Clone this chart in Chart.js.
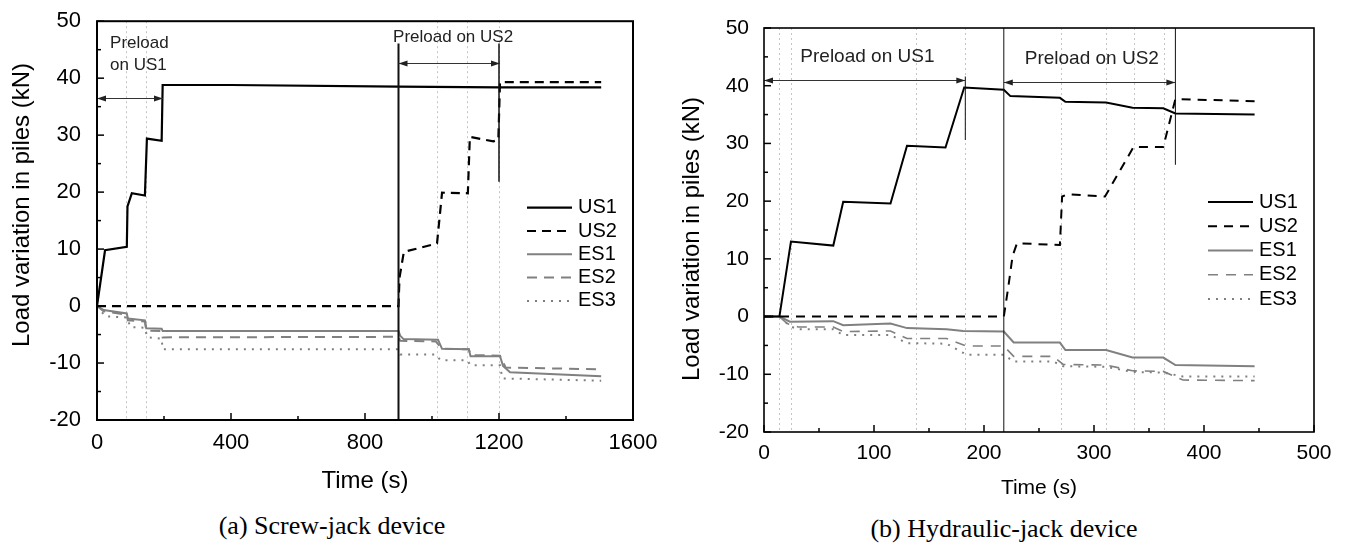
<!DOCTYPE html>
<html>
<head>
<meta charset="utf-8">
<script src="https://cdn.jsdelivr.net/npm/chart.js@4.4.1/dist/chart.umd.min.js"></script>
<style>
  body { margin: 0; background: #fff; width: 1347px; height: 549px; overflow: hidden; position: relative; }
  .panel { position: absolute; top: 0; }
  .caption {
    position: absolute;
    font-family: 'Liberation Serif', 'Times New Roman', serif;
    font-size: 26px;
    line-height: 26px;
    white-space: nowrap;
    transform: translateX(-50%);
  }
</style>
</head>
<body>
<div class="panel" style="left:0"><canvas id="chart-a" width="673" height="510"></canvas></div>
<div class="panel" style="left:673px"><canvas id="chart-b" width="674" height="510"></canvas></div>
<div class="caption" style="left:332px; top:513px">(a) Screw-jack device</div>
<div class="caption" style="left:1004px; top:516px">(b) Hydraulic-jack device</div>

<script>
const SANS = "'Liberation Sans', Arial, sans-serif";
const GREY = '#808080';

// (a) screw-jack device, time in s, load in kN
const screwUS1Time = [0, 24, 89, 91, 104, 143, 149, 193, 196, 400, 900, 1200, 1505];
const screwUS1Load = [0, 9.8, 10.4, 17.5, 19.8, 19.4, 29.4, 29.0, 38.8, 38.8, 38.5, 38.4, 38.4];
const screwUS2Time = [0, 900, 903, 916, 1015, 1030, 1107, 1113, 1183, 1198, 1203, 1505];
const screwUS2Load = [0, 0, 5, 9.5, 11, 19.9, 19.8, 29.7, 28.9, 29.2, 39.3, 39.3];
const screwES1Time = [0, 20, 89, 92, 143, 147, 193, 196, 900, 905, 915, 1018, 1030, 1110, 1115, 1203, 1212, 1233, 1505];
const screwES1Load = [0, -0.7, -1.3, -2.2, -2.5, -3.9, -4.0, -4.4, -4.4, -5.2, -5.8, -5.9, -7.5, -7.6, -8.8, -8.8, -10.5, -11.6, -12.3];
const screwES2Time = [0, 20, 89, 92, 143, 147, 193, 196, 900, 905, 1011, 1030, 1110, 1115, 1203, 1220, 1505];
const screwES2Load = [0, -0.9, -1.5, -2.5, -2.7, -4.3, -4.4, -5.5, -5.4, -6.1, -6.2, -7.5, -7.6, -8.6, -8.7, -10.8, -11.1];
const screwES3Time = [0, 25, 89, 100, 143, 150, 193, 196, 900, 905, 1011, 1025, 1105, 1115, 1203, 1210, 1505];
const screwES3Load = [0, -1.8, -2.0, -3.7, -3.8, -5.5, -5.7, -7.6, -7.6, -8.5, -8.5, -9.5, -9.5, -10.4, -10.4, -12.7, -13.1];

const screwMarks = [88, 147, 1015, 1105, 1200];
const screwPhaseTime = [900, 1200];
const screwPhaseTop = [46.1, 46.1];
const screwPhaseBottom = [-20, 21.8];
const screwArrowFrom = [0, 900];
const screwArrowTo = [197, 1203];
const screwArrowLevel = [36.5, 42.6];
const screwNotes = [
  { text: 'Preload', t: 39, v: 46.1, align: 'left' },
  { text: 'on US1', t: 39, v: 42.3, align: 'left' },
  { text: 'Preload on US2', t: 1063, v: 47.1, align: 'center' },
];

// (b) hydraulic-jack device
const hydroUS1Time = [0, 14, 24.5, 63, 72, 115, 130, 165, 182, 218, 224, 269, 274, 311, 335, 363, 374, 446];
const hydroUS1Load = [0, 0, 13.0, 12.3, 19.9, 19.6, 29.6, 29.3, 39.7, 39.3, 38.2, 37.9, 37.2, 37.1, 36.2, 36.1, 35.2, 35.0];
const hydroUS2Time = [0, 218, 222, 226, 230, 269, 271, 276, 310, 336, 363, 374, 446];
const hydroUS2Load = [0, 0, 5, 10.5, 12.7, 12.4, 20.8, 21.2, 20.8, 29.4, 29.4, 37.7, 37.3];
const hydroES1Time = [0, 14, 23.6, 63, 72, 115, 130, 166, 181, 218, 227, 269, 274, 311, 335, 363, 374, 446];
const hydroES1Load = [0, 0, -0.9, -0.8, -1.5, -1.2, -2.0, -2.2, -2.5, -2.6, -4.5, -4.5, -5.8, -5.8, -7.1, -7.1, -8.4, -8.6];
const hydroES2Time = [0, 14, 21, 31, 63, 72, 115, 130, 166, 184, 218, 227, 263, 272, 311, 335, 363, 381, 446];
const hydroES2Load = [0, 0, -1.2, -1.8, -1.8, -2.6, -2.5, -3.8, -3.8, -5.1, -5.1, -6.9, -6.9, -8.3, -8.4, -9.4, -9.5, -11.0, -11.1];
const hydroES3Time = [0, 14, 24, 31, 63, 72, 115, 130, 166, 184, 218, 227, 263, 272, 311, 335, 363, 381, 446];
const hydroES3Load = [0, 0, -1.7, -2.2, -2.2, -3.2, -3.2, -4.6, -4.7, -6.6, -6.6, -7.8, -7.8, -8.6, -8.7, -9.6, -9.7, -10.4, -10.4];

const hydroMarks = [14, 24.5, 138, 183, 270, 311, 336, 364];
const hydroPhaseTime = [218, 183, 374];
const hydroPhaseTop = [50, 41.6, 50];
const hydroPhaseBottom = [-20, 30.6, 26.3];
const hydroArrowFrom = [0, 218];
const hydroArrowTo = [183, 374];
const hydroArrowLevel = [41.0, 40.7];
const hydroNotes = [
  { text: 'Preload on US1', t: 94, v: 45.0, align: 'center' },
  { text: 'Preload on US2', t: 298, v: 44.6, align: 'center' },
];

function xy(ts, vs) {
  return ts.map((t, i) => ({ x: t, y: vs[i] }));
}

function series(label, ts, vs, color, width, dash) {
  return {
    label,
    data: xy(ts, vs),
    borderColor: color,
    borderWidth: width,
    borderDash: dash,
    pointRadius: 0,
    tension: 0,
    fill: false,
  };
}

function seg(ctx, x1, y1, x2, y2) {
  ctx.beginPath();
  ctx.moveTo(x1, y1);
  ctx.lineTo(x2, y2);
  ctx.stroke();
}

function arrowHead(ctx, x, y, dir) {
  ctx.beginPath();
  ctx.moveTo(x, y);
  ctx.lineTo(x - dir * 9, y - 3);
  ctx.lineTo(x - dir * 9, y + 3);
  ctx.closePath();
  ctx.fill();
}

const framePlugin = {
  id: 'frame',
  beforeDatasetsDraw(chart, args, o) {
    const { ctx, chartArea: a, scales: { x } } = chart;
    ctx.save();
    ctx.strokeStyle = '#c4c4c4';
    ctx.lineWidth = 1;
    ctx.setLineDash([2, 3]);
    o.marks.forEach((t) => {
      const px = Math.round(x.getPixelForValue(t)) + 0.5;
      seg(ctx, px, a.top, px, a.bottom);
    });
    ctx.restore();
  },
  afterDatasetsDraw(chart, args, o) {
    const { ctx, chartArea: a, scales: { x, y } } = chart;
    ctx.save();

    // phase boundaries
    ctx.strokeStyle = '#111';
    o.phaseTime.forEach((t, i) => {
      ctx.lineWidth = o.phaseWidth[i];
      const px = x.getPixelForValue(t);
      seg(ctx, px, y.getPixelForValue(o.phaseTop[i]), px, y.getPixelForValue(o.phaseBottom[i]));
    });

    // double arrows
    ctx.strokeStyle = '#333';
    ctx.fillStyle = '#222';
    ctx.lineWidth = 1;
    o.arrowFrom.forEach((t, i) => {
      const x1 = x.getPixelForValue(t);
      const x2 = x.getPixelForValue(o.arrowTo[i]);
      const py = Math.round(y.getPixelForValue(o.arrowLevel[i])) + 0.5;
      seg(ctx, x1, py, x2, py);
      arrowHead(ctx, x1, py, -1);
      arrowHead(ctx, x2, py, 1);
    });

    ctx.font = o.noteFont;
    ctx.fillStyle = '#222';
    ctx.textBaseline = 'middle';
    o.notes.forEach((n) => {
      ctx.textAlign = n.align;
      ctx.fillText(n.text, x.getPixelForValue(n.t), y.getPixelForValue(n.v));
    });

    // box
    ctx.strokeStyle = '#000';
    ctx.lineWidth = o.boxWidth;
    ctx.strokeRect(a.left, a.top, a.right - a.left, a.bottom - a.top);

    // inward ticks
    ctx.lineWidth = 1.5;
    x.ticks.forEach((tk) => {
      const len = tk.label === '' ? 4 : 7;
      const px = x.getPixelForValue(tk.value);
      seg(ctx, px, a.bottom, px, a.bottom - len);
    });
    y.ticks.forEach((tk) => {
      const len = tk.label === '' ? 4 : 7;
      const py = y.getPixelForValue(tk.value);
      seg(ctx, a.left, py, a.left + len, py);
    });

    // legend
    ctx.font = '20px ' + SANS;
    ctx.textAlign = 'left';
    ctx.textBaseline = 'middle';
    chart.data.datasets.forEach((ds, i) => {
      const ly = a.top + o.legendTop + i * o.legendGap;
      ctx.strokeStyle = ds.borderColor;
      ctx.lineWidth = ds.borderWidth;
      ctx.setLineDash(ds.borderDash || []);
      seg(ctx, a.right - 106, ly, a.right - 61, ly);
      ctx.setLineDash([]);
      ctx.fillStyle = '#000';
      ctx.fillText(ds.label, a.right - 55, ly);
    });

    // axis titles
    ctx.fillStyle = '#000';
    ctx.font = o.xTitleFont;
    ctx.textAlign = 'center';
    ctx.textBaseline = 'alphabetic';
    ctx.fillText('Time (s)', (a.left + a.right) / 2, o.xTitleBase);
    ctx.font = o.yTitleFont;
    ctx.textBaseline = 'middle';
    ctx.translate(o.yTitleX, o.yTitleY);
    ctx.rotate(-Math.PI / 2);
    ctx.fillText('Load variation in piles (kN)', 0, 0);
    ctx.restore();
  },
};

function axes(xMax, xStep, xMajor, tickSize, yPad, xPad, yWidth, xHeight) {
  return {
    x: {
      type: 'linear',
      min: 0,
      max: xMax,
      grid: { display: false },
      border: { display: false },
      afterFit: (s) => { s.height = xHeight; },
      ticks: {
        stepSize: xStep,
        autoSkip: false,
        maxRotation: 0,
        padding: xPad,
        color: '#000',
        font: { family: SANS, size: tickSize },
        callback: (v) => (v % xMajor === 0 ? v : ''),
      },
    },
    y: {
      min: -20,
      max: 50,
      grid: { display: false },
      border: { display: false },
      afterFit: (s) => { s.width = yWidth; },
      ticks: {
        stepSize: 5,
        autoSkip: false,
        padding: yPad,
        color: '#000',
        font: { family: SANS, size: tickSize },
        callback: (v) => (v % 10 === 0 ? v : ''),
      },
    },
  };
}

new Chart(document.getElementById('chart-a'), {
  type: 'line',
  data: {
    datasets: [
      series('US1', screwUS1Time, screwUS1Load, '#000', 2.2, []),
      series('US2', screwUS2Time, screwUS2Load, '#000', 2.2, [9, 6]),
      series('ES1', screwES1Time, screwES1Load, GREY, 2, []),
      series('ES2', screwES2Time, screwES2Load, GREY, 2, [10, 7]),
      series('ES3', screwES3Time, screwES3Load, GREY, 2, [2, 6]),
    ],
  },
  options: {
    responsive: false,
    animation: false,
    devicePixelRatio: 1,
    layout: { padding: { top: 21, right: 40, left: 0, bottom: 0 } },
    scales: axes(1600, 200, 400, 22, 8, 2, 97, 90),
    plugins: {
      legend: { display: false },
      tooltip: { enabled: false },
      frame: {
        marks: screwMarks,
        phaseTime: screwPhaseTime,
        phaseTop: screwPhaseTop,
        phaseBottom: screwPhaseBottom,
        phaseWidth: [2, 1.5],
        arrowFrom: screwArrowFrom,
        arrowTo: screwArrowTo,
        arrowLevel: screwArrowLevel,
        notes: screwNotes,
        noteFont: '17px ' + SANS,
        boxWidth: 2,
        legendTop: 186.5,
        legendGap: 23.3,
        xTitleFont: '24px ' + SANS,
        xTitleBase: 488,
        yTitleFont: '24px ' + SANS,
        yTitleX: 22,
        yTitleY: 205,
      },
    },
  },
  plugins: [framePlugin],
});

new Chart(document.getElementById('chart-b'), {
  type: 'line',
  data: {
    datasets: [
      series('US1', hydroUS1Time, hydroUS1Load, '#000', 2, []),
      series('US2', hydroUS2Time, hydroUS2Load, '#000', 2, [9, 7]),
      series('ES1', hydroES1Time, hydroES1Load, GREY, 2, []),
      series('ES2', hydroES2Time, hydroES2Load, GREY, 1.6, [10, 8]),
      series('ES3', hydroES3Time, hydroES3Load, GREY, 2, [2, 6]),
    ],
  },
  options: {
    responsive: false,
    animation: false,
    devicePixelRatio: 1,
    layout: { padding: { top: 28, right: 33, left: 0, bottom: 0 } },
    scales: axes(500, 50, 100, 21, 7, 1, 91, 78),
    plugins: {
      legend: { display: false },
      tooltip: { enabled: false },
      frame: {
        marks: hydroMarks,
        phaseTime: hydroPhaseTime,
        phaseTop: hydroPhaseTop,
        phaseBottom: hydroPhaseBottom,
        phaseWidth: [1, 1, 1],
        arrowFrom: hydroArrowFrom,
        arrowTo: hydroArrowTo,
        arrowLevel: hydroArrowLevel,
        notes: hydroNotes,
        noteFont: '19px ' + SANS,
        boxWidth: 1.6,
        legendTop: 174,
        legendGap: 24.25,
        xTitleFont: '21px ' + SANS,
        xTitleBase: 494,
        yTitleFont: '24px ' + SANS,
        yTitleX: 19,
        yTitleY: 239,
      },
    },
  },
  plugins: [framePlugin],
});
</script>
</body>
</html>
